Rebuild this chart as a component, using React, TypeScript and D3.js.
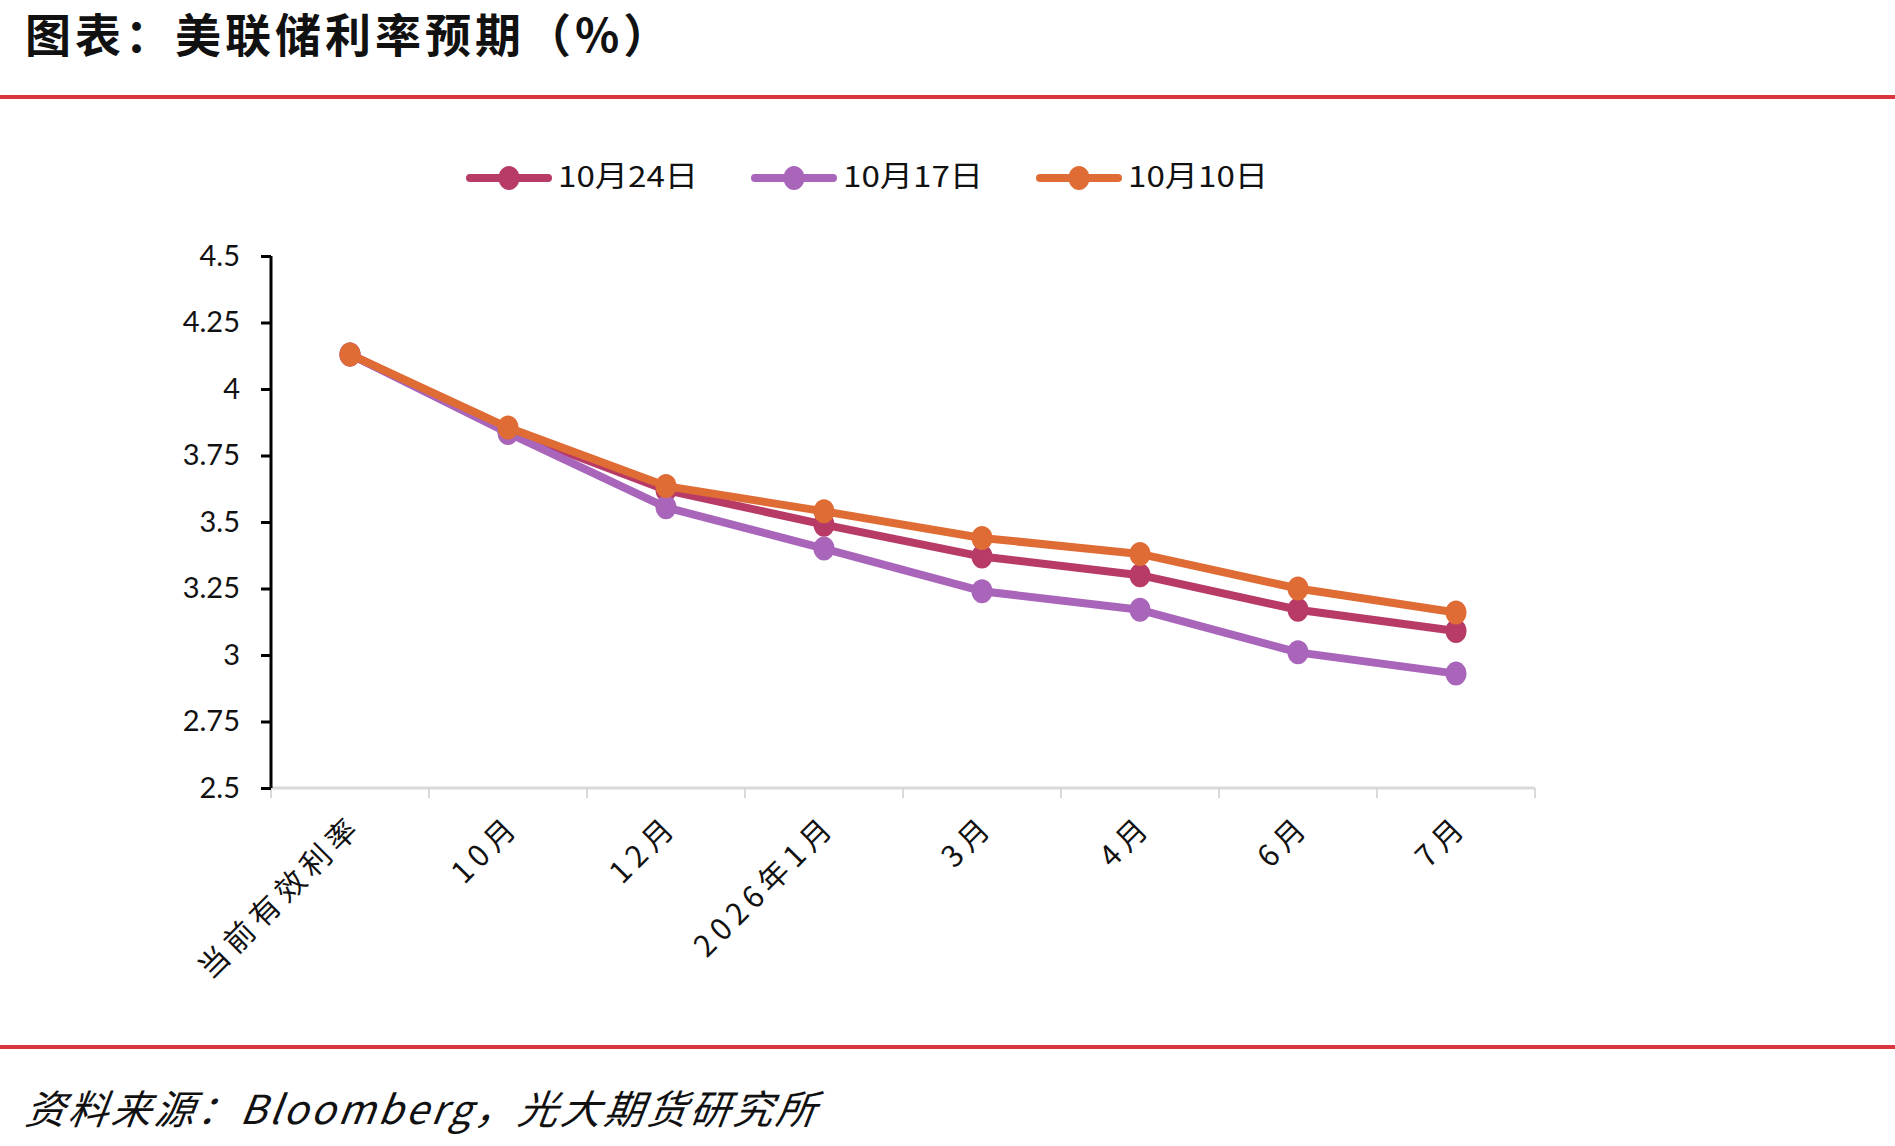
import * as d3 from 'd3'
import { useEffect, useRef } from 'react'

const categories = ['当前有效利率', '10月', '12月', '2026年1月', '3月', '4月', '6月', '7月']
const oct24 = [4.13, 3.845, 3.62, 3.49, 3.37, 3.3, 3.17, 3.09]
const oct17 = [4.13, 3.835, 3.555, 3.4, 3.24, 3.17, 3.01, 2.93]
const oct10 = [4.13, 3.855, 3.635, 3.54, 3.44, 3.38, 3.25, 3.16]
const seriesNames = ['10月24日', '10月17日', '10月10日']
const yTicks = [2.5, 2.75, 3, 3.25, 3.5, 3.75, 4, 4.25, 4.5]

const colors = ['#B83B67', '#A865BA', '#E06C35']

const W = 1895
const H = 1146

const App = () => {
  const ref = useRef<SVGSVGElement>(null)

  useEffect(() => {
    const svg = d3.select(ref.current)
    svg.selectAll('*').remove()
    svg.attr('width', W).attr('height', H)

    svg.append('rect').attr('width', W).attr('height', H).attr('fill', '#fff')

    // title + red rules
    svg
      .append('text')
      .attr('x', 25)
      .attr('y', 52)
      .attr('font-family', '"Noto Sans CJK SC"')
      .attr('font-weight', 700)
      .attr('font-size', 46)
      .attr('letter-spacing', 4)
      .attr('fill', '#111')
      .text('图表：美联储利率预期（%）')

    svg.append('rect').attr('x', 0).attr('y', 95).attr('width', W).attr('height', 4).attr('fill', '#D9363E')
    svg.append('rect').attr('x', 0).attr('y', 1045).attr('width', W).attr('height', 4).attr('fill', '#D9363E')

    svg
      .append('text')
      .attr('x', 27)
      .attr('y', 1124)
      .attr('font-family', '"Noto Sans CJK SC"')
      .attr('font-style', 'italic')
      .attr('font-size', 40)
      .attr('letter-spacing', 3)
      .attr('fill', '#111')
      .attr('transform', 'skewX(-8) translate(155,0)')
      .text('资料来源：Bloomberg，光大期货研究所')

    const margin = { left: 271, top: 256, right: 1535, bottom: 788 }

    const x = d3.scaleBand().domain(categories).range([margin.left, margin.right])
    const y = d3.scaleLinear().domain([2.5, 4.5]).range([margin.bottom, margin.top])

    // x axis (gray, ticks at band boundaries)
    const xg = svg.append('g')
    xg.append('line')
      .attr('x1', margin.left)
      .attr('x2', margin.right)
      .attr('y1', margin.bottom)
      .attr('y2', margin.bottom)
      .attr('stroke', '#D9D9D9')
      .attr('stroke-width', 3)
    const bounds = categories.map((c) => x(c) as number).concat([margin.right])
    xg.selectAll('line.tk')
      .data(bounds)
      .enter()
      .append('line')
      .attr('class', 'tk')
      .attr('x1', (d) => d)
      .attr('x2', (d) => d)
      .attr('y1', margin.bottom)
      .attr('y2', margin.bottom + 10)
      .attr('stroke', '#D9D9D9')
      .attr('stroke-width', 2)

    xg.selectAll('text.lbl')
      .data(categories)
      .enter()
      .append('text')
      .attr('class', 'lbl')
      .attr('transform', (d) => `translate(${(x(d) as number) + x.bandwidth() / 2 + 8},${margin.bottom + 34}) rotate(-45)`)
      .attr('text-anchor', 'end')
      .attr('dominant-baseline', 'middle')
      .attr('font-family', '"Noto Sans CJK SC"')
      .attr('font-size', 30)
      .attr('letter-spacing', 6)
      .attr('fill', '#111')
      .text((d) => d)

    // y axis
    const yAxis = svg
      .append('g')
      .attr('transform', `translate(${margin.left},0)`)
      .call(d3.axisLeft(y).tickValues(yTicks).tickSize(10).tickPadding(21).tickFormat((d) => String(d)))
    yAxis.select('.domain').attr('stroke', '#000').attr('stroke-width', 3).attr('d', `M0,${margin.top}V${margin.bottom}`)
    yAxis.selectAll('.tick line').attr('stroke', '#000').attr('stroke-width', 3)
    yAxis
      .selectAll('.tick text')
      .attr('font-family', 'Lato')
      .attr('font-size', 29)
      .attr('fill', '#111')

    // series
    const allSeries = [oct24, oct17, oct10]
    const line = d3
      .line<number>()
      .x((_, i) => (x(categories[i]) as number) + x.bandwidth() / 2)
      .y((d) => y(d))

    allSeries.forEach((vals, si) => {
      const g = svg.append('g')
      g.append('path')
        .attr('d', line(vals))
        .attr('fill', 'none')
        .attr('stroke', colors[si])
        .attr('stroke-width', 8)
        .attr('stroke-linejoin', 'round')
      g.selectAll('ellipse')
        .data(vals)
        .enter()
        .append('ellipse')
        .attr('cx', (_, i) => (x(categories[i]) as number) + x.bandwidth() / 2)
        .attr('cy', (d) => y(d))
        .attr('rx', 10.5)
        .attr('ry', 12)
        .attr('fill', colors[si])
    })

    // legend
    const legendX = [466, 751, 1036]
    const lg = svg.append('g')
    seriesNames.forEach((name, i) => {
      const lx = legendX[i]
      lg.append('line')
        .attr('x1', lx + 4)
        .attr('x2', lx + 82)
        .attr('y1', 178)
        .attr('y2', 178)
        .attr('stroke', colors[i])
        .attr('stroke-width', 8)
        .attr('stroke-linecap', 'round')
      lg.append('ellipse')
        .attr('cx', lx + 43)
        .attr('cy', 178)
        .attr('rx', 10.5)
        .attr('ry', 12)
        .attr('fill', colors[i])
      lg.append('text')
        .attr('x', lx + 92)
        .attr('y', 179)
        .attr('dominant-baseline', 'middle')
        .attr('font-family', '"Noto Sans CJK SC"')
        .attr('font-size', 29)
        .attr('textLength', 140)
        .attr('lengthAdjust', 'spacingAndGlyphs')
        .attr('fill', '#111')
        .text(name)
    })
  }, [])

  return (
    <div style={{ position: 'absolute', left: 0, top: 0 }}>
      <svg ref={ref}></svg>
    </div>
  )
}

export default App
